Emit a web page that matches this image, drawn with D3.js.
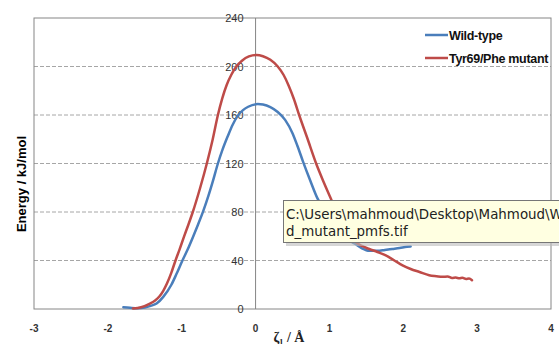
<!DOCTYPE html>
<html>
<head>
<meta charset="utf-8">
<script src="https://cdn.jsdelivr.net/npm/d3@7"></script>
<style>
  body { margin: 0; background: #fff; }
  svg { display: block; }
</style>
</head>
<body>
<svg id="chart" width="559" height="344"></svg>
<script>
// Reaction coordinate (Å) and energies (kJ/mol).
var wildX = [-1.79, -1.7, -1.6, -1.5, -1.42, -1.34, -1.25, -1.14, -1.07, -0.99, -0.92, -0.85, -0.78, -0.71, -0.64, -0.58, -0.51, -0.45, -0.38, -0.31, -0.24, -0.17, -0.1, 0.03, 0.1, 0.2, 0.3, 0.4, 0.5, 0.57, 0.64, 0.74, 0.84, 0.92, 1.0, 1.1, 1.2, 1.27, 1.34, 1.44, 1.54, 1.65, 1.75, 1.85, 1.95, 2.05, 2.1];
var wildY = [1.5, 1, 0.6, 1.2, 2.6, 4.5, 10, 20, 29, 40, 49, 59, 69.5, 80.5, 93, 105, 120, 131, 142, 152, 159.5, 164, 166.8, 169, 168.6, 166.5, 162.5, 156, 145, 134, 122, 106, 91, 82.5, 75, 66, 60, 56.5, 54, 50, 48, 48, 48.7, 49.5, 50.3, 51.3, 51.5];

var mutX = [-1.66, -1.55, -1.43, -1.36, -1.3, -1.25, -1.2, -1.14, -1.09, -1.03, -0.97, -0.91, -0.85, -0.75, -0.66, -0.58, -0.51, -0.45, -0.39, -0.33, -0.26, -0.18, -0.09, 0.01, 0.1, 0.2, 0.3, 0.38, 0.45, 0.52, 0.59, 0.7, 0.82, 0.92, 1.02, 1.1, 1.2, 1.27, 1.34, 1.44, 1.54, 1.65, 1.77, 1.88, 1.99, 2.1, 2.22, 2.35, 2.45, 2.53, 2.6, 2.66, 2.71, 2.76, 2.8, 2.85, 2.89, 2.93];
var mutY = [0.5, 1.5, 4.5, 7, 10.5, 15, 21, 30, 39, 49, 59.5, 69.5, 80, 100, 120, 140, 160, 174, 185, 193, 200, 205, 208.3, 209.5, 208.5, 205.5, 200, 193, 184, 173, 160, 141, 120, 105, 91, 80, 69, 61, 56, 52, 49.5, 47, 44, 40, 36, 33, 30.5, 27.8, 27, 26.5, 26.8, 25.6, 25.9, 25.3, 25.7, 24.7, 25.1, 23.7];

var xTicks = [-3, -2, -1, 0, 1, 2, 3, 4];
var yTicks = [0, 40, 80, 120, 160, 200, 240];
var gridTicks = [40, 80, 120, 160, 200];

var seriesNames = ["Wild-type", "Tyr69/Phe mutant"];
var seriesColors = ["#4a7ebb", "#be4b48"];

var svg = d3.select("#chart");

var x = d3.scaleLinear().domain([-3, 4]).range([34, 551]);
var y = d3.scaleLinear().domain([0, 240]).range([309, 18]);

// Dashed horizontal gridlines
svg.append("g")
  .selectAll("line")
  .data(gridTicks)
  .join("line")
  .attr("x1", x(-3)).attr("x2", x(4))
  .attr("y1", d => y(d)).attr("y2", d => y(d))
  .attr("stroke", "#a6a6a6")
  .attr("stroke-width", 1)
  .attr("stroke-dasharray", "4,2");

// Plot area frame
svg.append("rect")
  .attr("x", x(-3)).attr("y", y(240))
  .attr("width", x(4) - x(-3)).attr("height", y(0) - y(240))
  .attr("fill", "none")
  .attr("stroke", "#868686");

// Vertical axis sits at x = 0
svg.append("line")
  .attr("x1", x(0)).attr("x2", x(0))
  .attr("y1", y(0)).attr("y2", y(240))
  .attr("stroke", "#868686");

// Y tick labels, just left of the zero axis
svg.append("g")
  .selectAll("text")
  .data(yTicks)
  .join("text")
  .attr("x", x(0) - 12)
  .attr("y", d => y(d) + 4)
  .attr("text-anchor", "end")
  .attr("font-family", "Liberation Sans, Arial, sans-serif")
  .attr("font-size", 11)
  .attr("fill", "#333")
  .text(d => d);

// X tick labels
svg.append("g")
  .selectAll("text")
  .data(xTicks)
  .join("text")
  .attr("x", d => x(d))
  .attr("y", 332)
  .attr("text-anchor", "middle")
  .attr("font-family", "Liberation Sans, Arial, sans-serif")
  .attr("font-size", 10)
  .attr("font-weight", "bold")
  .attr("fill", "#333")
  .text(d => d);

// Axis titles
svg.append("text")
  .attr("transform", "translate(26,184) rotate(-90)")
  .attr("text-anchor", "middle")
  .attr("font-family", "Liberation Sans, Arial, sans-serif")
  .attr("font-size", 13)
  .attr("font-weight", "bold")
  .attr("fill", "#000")
  .text("Energy / kJ/mol");

svg.append("text")
  .attr("x", 289)
  .attr("y", 342)
  .attr("text-anchor", "middle")
  .attr("font-family", "Liberation Serif, Times New Roman, serif")
  .attr("font-size", 14)
  .attr("font-weight", "bold")
  .attr("fill", "#222")
  .text("\u03B6\u2081 / \u00C5");

// Curves
var line = d3.line()
  .x(d => x(d[0]))
  .y(d => y(d[1]))
  .curve(d3.curveMonotoneX);

var series = [d3.zip(wildX, wildY), d3.zip(mutX, mutY)];

svg.append("g")
  .selectAll("path")
  .data(series)
  .join("path")
  .attr("d", line)
  .attr("fill", "none")
  .attr("stroke", (d, i) => seriesColors[i])
  .attr("stroke-width", 2.5)
  .attr("stroke-linejoin", "round")
  .attr("stroke-linecap", "round");

// Legend
var legend = svg.append("g")
  .selectAll("g")
  .data(seriesNames)
  .join("g")
  .attr("transform", (d, i) => "translate(425," + (35 + i * 23) + ")");

legend.append("line")
  .attr("x1", 0).attr("x2", 23)
  .attr("stroke", (d, i) => seriesColors[i])
  .attr("stroke-width", 2.5);

legend.append("text")
  .attr("x", 24)
  .attr("y", 4.5)
  .attr("font-family", "Liberation Sans, Arial, sans-serif")
  .attr("font-size", 12.5)
  .attr("font-weight", "bold")
  .attr("letter-spacing", -0.3)
  .attr("fill", "#111")
  .text(d => d);

// File-name tooltip that was on screen when the picture was taken
var tip = svg.append("g");
tip.append("rect")
  .attr("x", 286).attr("y", 203)
  .attr("width", 290).attr("height", 43)
  .attr("fill", "#bbb")
  .attr("opacity", 0.6);
tip.append("rect")
  .attr("x", 283.5).attr("y", 200.5)
  .attr("width", 290).attr("height", 42)
  .attr("fill", "#ffffe1")
  .attr("stroke", "#767676");
tip.selectAll("text")
  .data(["C:\\Users\\mahmoud\\Desktop\\Mahmoud\\W", "d_mutant_pmfs.tif"])
  .join("text")
  .attr("x", 286)
  .attr("y", (d, i) => 219 + i * 17)
  .attr("font-family", "DejaVu Sans, sans-serif")
  .attr("font-size", 13.4)
  .attr("fill", "#222")
  .text(d => d);
</script>
</body>
</html>
